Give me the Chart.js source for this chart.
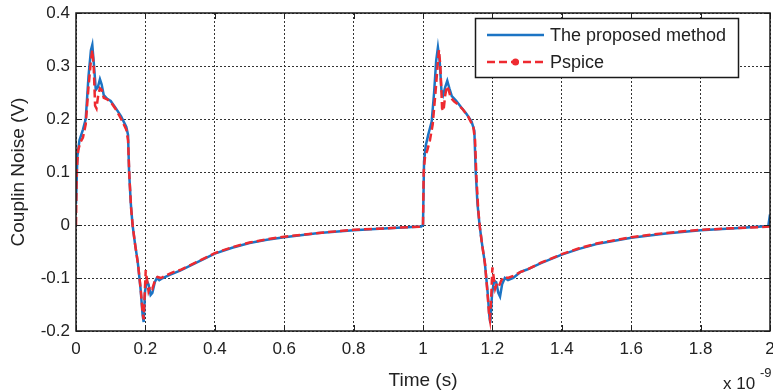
<!DOCTYPE html>
<html><head><meta charset="utf-8">
<script src="https://cdn.jsdelivr.net/npm/chart.js@4/dist/chart.umd.min.js"></script>
<style>html,body{margin:0;padding:0;background:#fff}#wrap{width:773px;height:391px}</style>
</head><body><div id="wrap"><canvas id="c" width="773" height="391"></canvas></div>
<script>
// Time in units of 1e-9 s
const tBlue = [0,0.004,0.01,0.02,0.028,0.036,0.043,0.047,0.052,0.057,0.063,0.069,0.074,0.08,0.09,0.1,0.115,0.13,0.145,0.15,0.153,0.158,0.163,0.17,0.178,0.186,0.192,0.195,0.199,0.204,0.209,0.215,0.22,0.227,0.233,0.24,0.25,0.27,0.3,0.35,0.4,0.45,0.5,0.55,0.6,0.7,0.8,0.9,0.995,
  1.0,1.003,1.008,1.015,1.025,1.032,1.038,1.043,1.048,1.053,1.058,1.064,1.07,1.076,1.083,1.095,1.11,1.125,1.14,1.148,1.152,1.157,1.163,1.17,1.178,1.186,1.191,1.194,1.199,1.205,1.211,1.217,1.222,1.228,1.236,1.245,1.26,1.28,1.3,1.34,1.4,1.45,1.5,1.6,1.7,1.8,1.9,1.995,2.0];
const vBlue = [0.04,0.13,0.16,0.18,0.2,0.28,0.33,0.34,0.3,0.255,0.26,0.275,0.265,0.245,0.238,0.234,0.22,0.205,0.185,0.17,0.1,0.04,0.0,-0.035,-0.07,-0.12,-0.17,-0.183,-0.125,-0.105,-0.112,-0.132,-0.128,-0.108,-0.1,-0.104,-0.1,-0.094,-0.086,-0.07,-0.054,-0.043,-0.034,-0.028,-0.023,-0.015,-0.01,-0.006,-0.003,
  0.0,0.12,0.15,0.17,0.195,0.25,0.31,0.335,0.31,0.255,0.245,0.26,0.272,0.258,0.243,0.235,0.222,0.21,0.195,0.178,0.1,0.04,0.0,-0.035,-0.07,-0.125,-0.17,-0.185,-0.13,-0.105,-0.108,-0.128,-0.135,-0.112,-0.1,-0.104,-0.1,-0.089,-0.084,-0.072,-0.056,-0.045,-0.036,-0.024,-0.016,-0.01,-0.006,-0.002,0.02];
const tRed = [0,0.002,0.006,0.012,0.02,0.028,0.036,0.043,0.047,0.051,0.055,0.059,0.064,0.069,0.074,0.08,0.09,0.1,0.115,0.13,0.145,0.15,0.154,0.159,0.164,0.171,0.179,0.187,0.192,0.195,0.198,0.201,0.204,0.209,0.214,0.22,0.227,0.235,0.245,0.26,0.28,0.3,0.35,0.4,0.45,0.5,0.55,0.6,0.7,0.8,0.9,0.995,
  1.0,1.002,1.006,1.012,1.02,1.028,1.036,1.042,1.046,1.05,1.055,1.059,1.064,1.069,1.074,1.08,1.09,1.1,1.115,1.13,1.145,1.15,1.154,1.159,1.164,1.171,1.179,1.186,1.19,1.193,1.197,1.2,1.203,1.208,1.213,1.219,1.226,1.235,1.245,1.26,1.28,1.3,1.34,1.4,1.45,1.5,1.6,1.7,1.8,1.9,2.0];
const vRed = [0.0,0.1,0.14,0.155,0.165,0.19,0.26,0.31,0.33,0.3,0.225,0.22,0.245,0.258,0.255,0.24,0.237,0.232,0.218,0.2,0.18,0.16,0.09,0.03,-0.005,-0.04,-0.075,-0.125,-0.165,-0.178,-0.13,-0.085,-0.1,-0.125,-0.115,-0.12,-0.106,-0.098,-0.1,-0.095,-0.089,-0.085,-0.069,-0.053,-0.042,-0.033,-0.027,-0.022,-0.015,-0.009,-0.006,-0.003,
  0.0,0.1,0.13,0.14,0.16,0.19,0.25,0.3,0.33,0.3,0.22,0.215,0.245,0.262,0.255,0.24,0.233,0.228,0.218,0.205,0.185,0.16,0.09,0.03,-0.005,-0.04,-0.075,-0.13,-0.165,-0.178,-0.13,-0.08,-0.095,-0.12,-0.11,-0.115,-0.104,-0.098,-0.1,-0.096,-0.089,-0.084,-0.071,-0.055,-0.044,-0.035,-0.023,-0.015,-0.009,-0.006,-0.003];
const seriesLabels = ['The proposed method','Pspice'];
const xTickValues = [0,0.2,0.4,0.6,0.8,1,1.2,1.4,1.6,1.8,2];
const yTickValues = [-0.2,-0.1,0,0.1,0.2,0.3,0.4];

const BLUE = '#1c74c4', RED = '#ee2a30';
const FONT = '"Liberation Sans", Arial, Helvetica, sans-serif';
const TXT = '#222';

const toXY = (ts, vs) => ts.map((t, i) => ({x: t, y: vs[i]}));

const framePlugin = {
  id: 'frame',
  afterDraw(chart) {
    const {ctx, chartArea: a, scales} = chart;
    const xs = scales.x, ys = scales.y;
    ctx.save();
    ctx.strokeStyle = '#222'; ctx.lineWidth = 1; ctx.setLineDash([]);
    ctx.beginPath();
    xTickValues.forEach(v => {
      const px = Math.round(xs.getPixelForValue(v)) + 0.5;
      ctx.moveTo(px, a.bottom); ctx.lineTo(px, a.bottom - 6);
      ctx.moveTo(px, a.top); ctx.lineTo(px, a.top + 6);
    });
    yTickValues.forEach(v => {
      const py = Math.round(ys.getPixelForValue(v)) + 0.5;
      ctx.moveTo(a.left, py); ctx.lineTo(a.left + 6, py);
      ctx.moveTo(a.right, py); ctx.lineTo(a.right - 6, py);
    });
    ctx.stroke();
    ctx.lineWidth = 1.5; ctx.strokeStyle = '#1a1a1a';
    ctx.strokeRect(a.left, a.top, a.right - a.left, a.bottom - a.top);
    // legend
    const lx = 475.5, ly = 18.5, lw = 263, lh = 59;
    ctx.fillStyle = '#fff'; ctx.fillRect(lx, ly, lw, lh);
    ctx.strokeStyle = '#1a1a1a'; ctx.lineWidth = 1.5; ctx.strokeRect(lx, ly, lw, lh);
    const ds = chart.data.datasets;
    const rows = [35, 62];
    ds.forEach((d, i) => {
      const y = rows[i];
      ctx.strokeStyle = d.borderColor; ctx.lineWidth = d.borderWidth;
      ctx.setLineDash(d.borderDash || []);
      ctx.beginPath(); ctx.moveTo(487, y); ctx.lineTo(544, y); ctx.stroke();
      ctx.setLineDash([]);
      if (i === 1) { ctx.fillStyle = d.borderColor; ctx.beginPath(); ctx.arc(515.5, y, 3.5, 0, Math.PI*2); ctx.fill(); }
      ctx.fillStyle = TXT; ctx.font = '18px ' + FONT; ctx.textBaseline = 'middle'; ctx.textAlign = 'left';
      ctx.fillText(d.label, 550, y + 1);
    });
    ctx.fillStyle = TXT; ctx.font = '17px ' + FONT; ctx.textBaseline = 'middle'; ctx.textAlign = 'left';
    ctx.fillText('x 10', 723, 384);
    ctx.font = '13px ' + FONT;
    ctx.fillText('-9', 760, 373);
    ctx.restore();
  }
};

new Chart(document.getElementById('c'), {
  type: 'line',
  data: {
    datasets: [
      {label: seriesLabels[0], data: toXY(tBlue, vBlue), borderColor: BLUE, backgroundColor: BLUE, borderWidth: 2.5, pointRadius: 0, tension: 0, order: 1},
      {label: seriesLabels[1], data: toXY(tRed, vRed), borderColor: RED, backgroundColor: RED, borderWidth: 2.5, borderDash: [8,4], pointRadius: 0, tension: 0, order: 0}
    ]
  },
  options: {
    responsive: false, animation: false, devicePixelRatio: 1,
    layout: {autoPadding: false, padding: {left: 0, right: 3, top: 13, bottom: 0}},
    plugins: {legend: {display: false}, tooltip: {enabled: false}},
    scales: {
      x: {
        type: 'linear', min: 0, max: 2,
        afterBuildTicks: s => { s.ticks = xTickValues.map(v => ({value: v})); },
        afterFit: s => { s.height = 60; s.paddingLeft = 0; s.paddingRight = 0; },
        ticks: {color: TXT, font: {family: FONT, size: 17}, padding: 8, maxRotation: 0, autoSkip: false,
          callback: v => String(Number(v.toFixed(1)))},
        grid: {color: '#333', lineWidth: 1, drawTicks: false},
        border: {display: false, dash: [2,2]},
        title: {display: true, text: 'Time (s)', color: TXT, font: {family: FONT, size: 19}, padding: {top: 0, bottom: -1}}
      },
      y: {
        type: 'linear', min: -0.2, max: 0.4,
        afterBuildTicks: s => { s.ticks = yTickValues.map(v => ({value: v})); },
        afterFit: s => { s.width = 76; s.paddingTop = 0; s.paddingBottom = 0; },
        ticks: {color: TXT, font: {family: FONT, size: 17}, padding: 6,
          callback: v => String(Number(v.toFixed(1)))},
        grid: {color: '#333', lineWidth: 1, drawTicks: false},
        border: {display: false, dash: [2,2]},
        title: {display: true, text: 'Couplin Noise (V)', color: TXT, font: {family: FONT, size: 19}, padding: {top: 7, bottom: 0}}
      }
    }
  },
  plugins: [framePlugin]
});
</script></body></html>
